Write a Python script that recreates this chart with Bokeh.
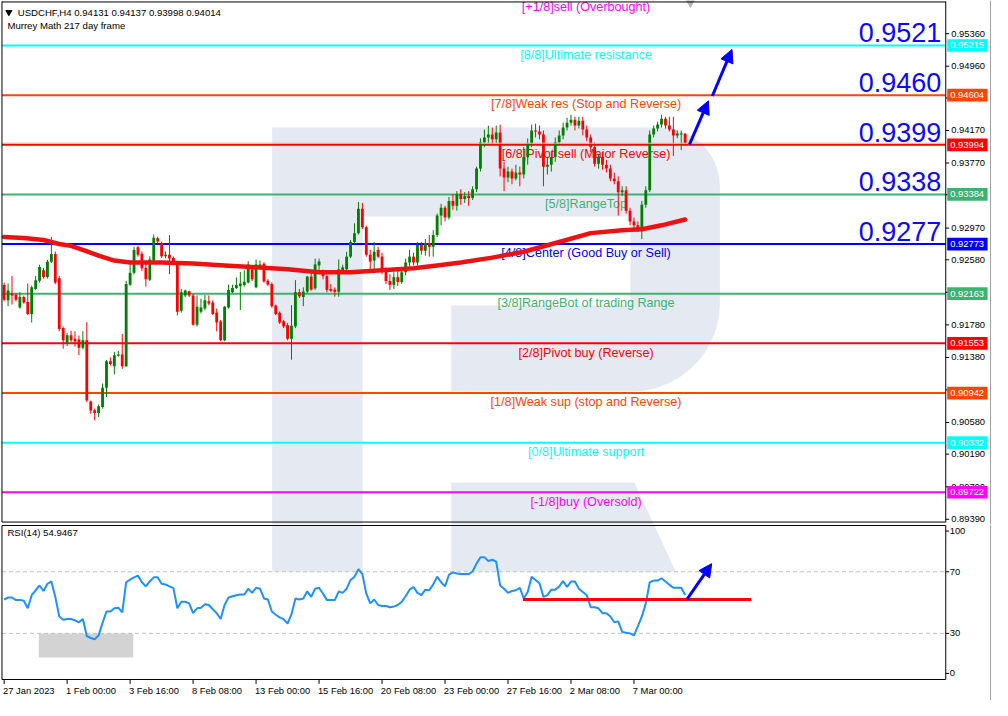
import numpy as np
from bokeh.plotting import figure
from bokeh.models import Range1d, Arrow, NormalHead
from bokeh.layouts import column
from bokeh.embed import file_html
from bokeh.resources import INLINE
from bokeh.core.properties import value

# ---------------- data (USDCHF H4) ----------------
symbol_header = "USDCHF,H4  0.94131 0.94137 0.93998 0.94014"
indicator_header = "Murrey Math 217 day frame"
rsi_header = "RSI(14) 54.9467"

opens = [
    .92270, .92082, .92170, .92150, .91994, .92122, .92062, .91913, .92222, .92322,
    .92451, .92370, .92555, .92651, .92354, .91741, .91560, .91653, .91608, .91600,
    .91500, .91592, .90839, .90730, .90698, .90770, .91007, .91332, .91272, .91400,
    .91416, .91272, .92274, .92422, .92735, .92655, .92483, .92334, .92571, .92844,
    .92784, .92623, .92643, .92603, .92551, .91953, .92142, .92194, .92142, .91781,
    .91941, .91982, .92070, .92054, .91933, .91821, .91592, .91994, .92182, .92234,
    .92254, .92270, .92302, .92463, .92242, .92471, .92531, .92322, .92282, .92018,
    .91929, .91825, .91777, .91609, .91761, .92182, .92122, .92190, .92374, .92230,
    .92511, .92439, .92379, .92222, .92214, .92186, .92439, .92463, .92619, .92799,
    .92907, .93208, .92980, .92643, .92571, .92700, .92619, .92439, .92319, .92271,
    .92367, .92307, .92427, .92547, .92619, .92547, .92763, .92691, .92787, .92739,
    .92884, .93124, .93220, .93100, .93304, .93244, .93388, .93328, .93364, .93340,
    .93448, .93701, .94025, .94085, .94121, .94061, .94146, .93701, .93593, .93665,
    .93581, .93653, .93629, .93845, .94013, .94170, .94158, .94121, .93725, .93749,
    .93845, .94025, .94109, .94206, .94266, .94302, .94230, .94290, .94182, .94085,
    .93965, .93761, .93845, .93749, .93701, .93581, .93545, .93412, .93436, .93184,
    .93052, .93004, .92956, .93256, .93436, .94121, .94194, .94242, .94314, .94230,
    .94182, .94109, .94121, .94131]

highs = [
    .92300, .92290, .92382, .92170, .92182, .92140, .92290, .92262, .92382, .92520,
    .92480, .92580, .92860, .92680, .92382, .91760, .91680, .91709, .91701, .91649,
    .91701, .91813, .90850, .90750, .90800, .91059, .91348, .91380, .91448, .91460,
    .91669, .92322, .92543, .92740, .92755, .92683, .92563, .92623, .92892, .92864,
    .92804, .92683, .92884, .92620, .92563, .92222, .92214, .92202, .92162, .92142,
    .92102, .92146, .92142, .92082, .91981, .91840, .92010, .92274, .92274, .92362,
    .92431, .92451, .92563, .92503, .92583, .92571, .92551, .92342, .92302, .92030,
    .91946, .91841, .91801, .92022, .92330, .92222, .92242, .92382, .92443, .92595,
    .92595, .92460, .92400, .92283, .92240, .92583, .92520, .92679, .92823, .93028,
    .93292, .93280, .93000, .92703, .92799, .92740, .92667, .92487, .92403, .92427,
    .92439, .92463, .92595, .92703, .92667, .92799, .92799, .92835, .92884, .92944,
    .93148, .93268, .93244, .93352, .93388, .93424, .93448, .93412, .93424, .93484,
    .93725, .94073, .94182, .94230, .94206, .94230, .94242, .93785, .93725, .93701,
    .93749, .93725, .93965, .94073, .94242, .94254, .94230, .94170, .93845, .93905,
    .94085, .94170, .94266, .94326, .94362, .94338, .94338, .94338, .94230, .94121,
    .94025, .93881, .93905, .93809, .93749, .93653, .93605, .93484, .93484, .93220,
    .93100, .93052, .93304, .93484, .94170, .94230, .94278, .94362, .94338, .94338,
    .94338, .94170, .94170, .94137]

lows = [
    .92070, .92010, .92030, .92070, .91980, .92040, .91901, .91809, .92210, .92300,
    .92350, .92350, .92540, .92280, .91700, .91488, .91520, .91570, .91512, .91408,
    .91480, .90830, .90686, .90606, .90646, .90750, .90891, .91280, .91172, .91390,
    .91240, .91260, .92260, .92400, .92620, .92443, .92250, .92320, .92550, .92780,
    .92603, .92600, .92403, .92520, .91897, .91930, .92120, .92122, .91770, .91760,
    .91920, .91960, .92020, .91900, .91701, .91580, .91580, .91980, .92170, .92220,
    .91962, .92250, .92290, .92320, .92230, .92460, .92300, .92260, .91990, .91900,
    .91790, .91740, .91590, .91352, .91740, .92110, .92010, .92170, .92200, .92210,
    .92420, .92340, .92180, .92186, .92126, .92126, .92420, .92450, .92600, .92780,
    .92890, .92960, .92619, .92439, .92415, .92600, .92403, .92283, .92210, .92222,
    .92259, .92283, .92391, .92499, .92511, .92511, .92643, .92631, .92619, .92619,
    .92860, .93004, .93052, .93076, .93196, .93184, .93256, .93280, .93244, .93316,
    .93412, .93665, .93965, .94013, .93989, .94013, .93605, .93424, .93532, .93508,
    .93557, .93484, .93581, .93749, .93965, .94085, .94061, .93484, .93629, .93665,
    .93785, .93989, .94061, .94170, .94230, .94170, .94194, .94109, .94037, .93905,
    .93725, .93701, .93689, .93653, .93545, .93508, .93124, .93364, .93148, .93004,
    .92956, .92920, .92835, .93220, .93412, .94085, .94158, .94206, .94194, .94158,
    .93857, .94073, .93929, .93998]

closes = [
    .92090, .92202, .92140, .92090, .92122, .92054, .91913, .92242, .92330, .92491,
    .92370, .92555, .92651, .92302, .91729, .91592, .91653, .91592, .91576, .91500,
    .91592, .90851, .90726, .90698, .90778, .91007, .91332, .91300, .91408, .91416,
    .91272, .92282, .92422, .92700, .92643, .92475, .92342, .92583, .92852, .92804,
    .92623, .92643, .92595, .92543, .91941, .92182, .92202, .92142, .91781, .92002,
    .91994, .92082, .92042, .91913, .91809, .91592, .92002, .92210, .92234, .92270,
    .92290, .92310, .92523, .92342, .92523, .92523, .92314, .92274, .92010, .91913,
    .91809, .91761, .91609, .91769, .92182, .92130, .92190, .92374, .92214, .92523,
    .92559, .92379, .92210, .92198, .92186, .92463, .92487, .92619, .92799, .92907,
    .93208, .92980, .92643, .92559, .92679, .92619, .92439, .92319, .92271, .92367,
    .92307, .92427, .92547, .92619, .92547, .92763, .92691, .92787, .92739, .92884,
    .93124, .93220, .93100, .93304, .93244, .93388, .93328, .93364, .93340, .93448,
    .93701, .94025, .94085, .94121, .94061, .94146, .93701, .93593, .93665, .93581,
    .93653, .93629, .93845, .94013, .94170, .94158, .94121, .93725, .93749, .93845,
    .94025, .94109, .94206, .94266, .94302, .94230, .94290, .94182, .94085, .93965,
    .93761, .93845, .93749, .93701, .93581, .93545, .93412, .93436, .93184, .93052,
    .93004, .92956, .93256, .93436, .94121, .94194, .94242, .94314, .94230, .94182,
    .94109, .94133, .94131, .94014]

# moving average (read at selected bars)
ma_idx = [0, 5, 10, 14, 17, 20, 24, 28, 32, 40, 48, 56, 64, 72, 80, 88, 96, 104,
          110, 116, 124, 132, 141, 149, 157, 162, 167, 173]
ma_vals = [.92860, .92847, .92823, .92775, .92751, .92703, .92631, .92571, .92547,
           .92547, .92535, .92511, .92487, .92463, .92427, .92427, .92451, .92475,
           .92511, .92547, .92607, .92679, .92799, .92908, .92944, .92956, .93004, .93076]

rsi = [
    52.0, 53.3, 53.3, 51.6, 51.6, 51.2, 46.3, 54.8, 58.0, 61.1,
    57.5, 62.2, 63.7, 53.7, 41.0, 38.9, 39.3, 39.3, 38.5, 37.2,
    39.3, 28.3, 27.0, 26.2, 28.7, 36.8, 44.2, 44.2, 46.3, 46.7,
    43.6, 63.2, 64.9, 66.4, 67.5, 63.2, 60.5, 63.7, 66.4, 66.4,
    62.2, 61.8, 60.5, 59.4, 46.3, 50.5, 50.5, 49.5, 43.1, 46.3,
    46.7, 48.9, 48.4, 45.7, 43.1, 39.3, 48.4, 53.3, 54.1, 54.8,
    55.2, 55.2, 59.0, 56.3, 59.6, 59.0, 52.7, 52.0, 44.2, 42.1,
    40.4, 39.3, 36.4, 42.5, 52.7, 52.0, 52.7, 57.3, 53.7, 59.0,
    59.6, 55.8, 51.6, 51.6, 51.6, 57.3, 56.3, 59.0, 64.7, 66.8,
    71.7, 68.5, 55.8, 49.5, 52.0, 48.4, 47.8, 47.8, 47.0, 47.4,
    48.4, 50.5, 54.1, 58.4, 60.1, 56.3, 54.8, 58.4, 58.0, 61.8,
    66.8, 63.2, 60.5, 68.1, 69.6, 68.9, 68.5, 68.5, 68.5, 70.2,
    75.3, 79.5, 79.5, 77.0, 77.8, 76.6, 61.1, 59.0, 56.3, 57.5,
    58.0, 59.6, 52.7, 56.9, 66.8, 64.7, 62.6, 53.7, 54.8, 58.4,
    58.4, 60.5, 63.9, 60.1, 63.7, 63.7, 59.0, 56.9, 54.8, 47.0,
    47.0, 46.3, 43.1, 43.1, 41.0, 37.2, 37.8, 30.9, 30.4, 30.0,
    28.7, 34.7, 41.0, 49.5, 63.2, 64.3, 64.3, 65.8, 63.7, 61.5,
    59.6, 59.6, 59.6, 54.9467]

levels = [0.95825, 0.95215, 0.94604, 0.93994, 0.93384, 0.92773,
          0.92163, 0.91553, 0.90942, 0.90332, 0.89722]
level_names = ["[+1/8]sell (Overbought)", "[8/8]Ultimate resistance",
               "[7/8]Weak res (Stop and Reverse)", "[6/8]Pivot sell (Major Reverse)",
               "[5/8]RangeTop", "[4/8]Center (Good Buy or Sell)",
               "[3/8]RangeBot of trading Range", "[2/8]Pivot buy (Reverse)",
               "[1/8]Weak sup (stop and Reverse)", "[0/8]Ultimate support",
               "[-1/8]buy (Oversold)"]
level_colors = ["#ff00ff", "#00ffff", "#ff4500", "#ff0000", "#3cb371", "#0000ff",
                "#3cb371", "#ff0000", "#ff4500", "#00ffff", "#ff00ff"]
big_labels = ["0.9521", "0.9460", "0.9399", "0.9338", "0.9277"]

price_ticks = [0.95360, 0.94960, 0.94570, 0.94170, 0.93770, 0.93380, 0.92970, 0.92580,
               0.92180, 0.91780, 0.91380, 0.90980, 0.90580, 0.90190, 0.89790, 0.89390]
time_ticks = [0, 16, 32, 48, 64, 80, 96, 112, 128, 144, 160]
time_labels = ["27 Jan 2023", "1 Feb 00:00", "3 Feb 16:00", "8 Feb 08:00", "13 Feb 00:00",
               "15 Feb 16:00", "20 Feb 08:00", "23 Feb 00:00", "27 Feb 16:00",
               "2 Mar 08:00", "7 Mar 00:00"]
rsi_levels = [70, 30]

# annotations (data units)
main_arrows = [(174.1, 0.93998, 178.9, 0.94534), (179.9, 0.94594, 184.9, 0.95167)]
rsi_arrow = (173.5, 52.2, 179.75, 75.3)
rsi_support = (131.8, 189.8, 52.0)
rsi_box = (8.8, 32.8, 14.35, 30.0)

# ---------------- helpers: reference pixel -> data ----------------
def X(px):
    return (px - 3.7) / 4.0

def P(py):
    return 0.95768 - py / 8320.0

def R(py):
    return (694.6 - py) / 1.575

FONT = value("Liberation Sans")
GREEN = "#008000"
RED = "#ff0000"
WM = "#e5eaf2"
W, HM, HR = 992, 524, 176
SPLIT = 536.0

def make_fig(h, yr):
    f = figure(width=W, height=h, x_range=Range1d(X(0), X(1008)), y_range=yr,
               output_backend="svg", toolbar_location=None,
               x_axis_type=None, y_axis_type=None, min_border=0,
               outline_line_color=None, background_fill_color="white",
               border_fill_color="white")
    f.xgrid.visible = False
    f.ygrid.visible = False
    return f

main = make_fig(HM, Range1d(P(SPLIT), P(0)))
rsif = make_fig(HR, Range1d(R(716), R(SPLIT)))

# ---------------- watermark ----------------
def poly(pts, yf):
    return [X(a) for a, b in pts], [yf(b) for a, b in pts]

t = np.linspace(0, np.pi / 2, 12)
arc1 = [(671 + 60 * np.sin(a), 190 - 60 * np.cos(a)) for a in t]
arc2 = [(641 + 90 * np.cos(a), 310 + 90 * np.sin(a)) for a in t]
body_pts = ([(276, 130), (671, 130)] + arc1 + [(731, 310)] + arc2 +
            [(458, 400), (458, 312), (640, 312), (640, 221), (368, 221), (368, SPLIT),
             (276, SPLIT)])
leg_main = [(458, 493), (644, 493), (664, SPLIT), (458, SPLIT)]
xs1, ys1 = poly(body_pts, P)
xs2, ys2 = poly(leg_main, P)
main.patches([xs1, xs2], [ys1, ys2], fill_color=WM, line_color=None)

stem_r = [(276, 537), (368, 537), (368, 584), (276, 584)]
leg_r = [(458, 537), (664.5, 537), (686, 584), (458, 584)]
xs3, ys3 = poly(stem_r, R)
xs4, ys4 = poly(leg_r, R)
rsif.patches([xs3, xs4], [ys3, ys4], fill_color=WM, line_color=None)

# ---------------- main chart ----------------
xl, xr = X(1.5), X(960.5)
for lv, col in zip(levels, level_colors):
    main.segment(x0=[xl], y0=[lv], x1=[xr], y1=[lv], line_color=col, line_width=2)

for k, (lv, col, name) in enumerate(zip(levels, level_colors, level_names)):
    ty = lv - 9.5 / 8320
    if ty > P(7):          # keep the top (overbought) label inside the frame
        ty = P(7)
    main.text(x=[X(595)], y=[ty], text=[name], text_font=FONT,
              text_font_size="12.6px", text_color=col, text_align="center",
              text_baseline="middle")

o = np.array(opens); h = np.array(highs); l = np.array(lows); c = np.array(closes)
idx = np.arange(len(o))
cols = [GREEN if cc >= oo else RED for oo, cc in zip(o, c)]
btop = np.maximum(o, c)
bbot = np.minimum(o, c)
minh = 1.0 / 8320
thin = (btop - bbot) < minh
mid = (btop + bbot) / 2
btop = np.where(thin, mid + minh / 2, btop)
bbot = np.where(thin, mid - minh / 2, bbot)
main.segment(x0=idx, y0=np.maximum(h, btop), x1=idx, y1=np.minimum(l, bbot),
             line_color=cols, line_width=1)
main.vbar(x=idx, width=0.72, top=btop, bottom=bbot, fill_color=cols, line_color=None)

main.line(ma_idx, ma_vals, line_color="#ee1111", line_width=4.5, line_join="round",
          line_cap="round")

# bid line
main.segment(x0=[xl], y0=[closes[-1]], x1=[xr], y1=[closes[-1]], line_color="#c0c0c0",
             line_width=1)

main.text(x=[X(956)] * len(big_labels), y=[lv + 13 / 8320 for lv in levels[1:6]],
          text=big_labels, text_font=FONT, text_font_size="27px", text_color="#0a0aff",
          text_align="right", text_baseline="middle")

for (x0, y0, x1, y1) in main_arrows:
    main.add_layout(Arrow(end=NormalHead(size=13, fill_color="#0000ff", line_color="#0000ff"),
                          x_start=x0, y_start=y0, x_end=x1, y_end=y1,
                          line_color="#0000ff", line_width=3))

# small grey marker clipped at the top edge
main.scatter([X(701)], [P(2)], marker="inverted_triangle", size=10, fill_color="#b4b4b4",
             line_color=None)

# frame
main.segment(x0=[xl, xr, xl, xl], y0=[P(1), P(1), P(1.5), P(533.5)],
             x1=[xl, xr, xr, xr], y1=[P(533.5), P(533.5), P(1.5), P(533.5)],
             line_color="black", line_width=1)
main.segment(x0=[X(1006)], y0=[P(0)], x1=[X(1006)], y1=[P(SPLIT)], line_color="#a0a0a0",
             line_width=1)

# right price axis
main.segment(x0=[X(960.5)] * len(price_ticks), y0=price_ticks,
             x1=[X(964)] * len(price_ticks), y1=price_ticks, line_color="black", line_width=1)
main.text(x=[X(966)] * len(price_ticks), y=price_ticks,
          text=["%.5f" % v for v in price_ticks], text_font=FONT, text_font_size="9.4px",
          text_color="black", text_align="left", text_baseline="middle")
lv_box = levels[1:]
main.quad(left=[X(962)] * len(lv_box), right=[X(1003)] * len(lv_box),
          top=[v + 6.5 / 8320 for v in lv_box], bottom=[v - 6.5 / 8320 for v in lv_box],
          fill_color=level_colors[1:], line_color=None)
main.text(x=[X(965)] * len(lv_box), y=lv_box, text=["%.5f" % v for v in lv_box],
          text_font=FONT, text_font_size="9.4px", text_color="white", text_align="left",
          text_baseline="middle")

# header
main.scatter([X(8.5)], [P(12)], marker="inverted_triangle", size=6, fill_color="black",
             line_color="black")
main.text(x=[X(17.5)], y=[P(12.5)], text=[symbol_header], text_font=FONT,
          text_font_size="9.6px", text_color="black", text_align="left", text_baseline="middle")
main.text(x=[X(7)], y=[P(25.5)], text=[indicator_header], text_font=FONT,
          text_font_size="9.6px", text_color="black", text_align="left", text_baseline="middle")

# ---------------- RSI panel ----------------
bx0, bx1, by0, by1 = rsi_box
rsif.quad(left=[bx0], right=[bx1], bottom=[by0], top=[by1], fill_color="#d3d3d3",
          line_color=None)
for lvl in rsi_levels:
    rsif.segment(x0=[xl], y0=[lvl], x1=[xr], y1=[lvl], line_color="#c0c0c0",
                 line_width=1, line_dash="4 3")
rsif.line(idx, rsi, line_color="#1e90ff", line_width=2)
s0, s1, sv = rsi_support
rsif.segment(x0=[s0], y0=[sv], x1=[s1], y1=[sv], line_color="#ff0000", line_width=3)
ax0, ay0, ax1, ay1 = rsi_arrow
rsif.add_layout(Arrow(end=NormalHead(size=13, fill_color="#0000ff", line_color="#0000ff"),
                      x_start=ax0, y_start=ay0, x_end=ax1, y_end=ay1,
                      line_color="#0000ff", line_width=3))

# frame
rt, rb = R(537), R(694.5)
rsif.segment(x0=[xl, xr, xl, xl], y0=[rt, rt, rt, rb], x1=[xl, xr, xr, xr],
             y1=[rb, rb, rt, rb], line_color="black", line_width=1)
rsif.segment(x0=[X(1006)], y0=[R(SPLIT)], x1=[X(1006)], y1=[R(716)], line_color="#a0a0a0",
             line_width=1)

# right RSI axis labels (MT4 shifts the 0/100 labels inside the window)
r_lab_y = [R(542.7), 70, 30, R(688.3)]
rsif.segment(x0=[X(960.5)] * 4, y0=r_lab_y, x1=[X(964)] * 4, y1=r_lab_y,
             line_color="black", line_width=1)
rsif.text(x=[X(964.5)] * 4, y=r_lab_y, text=["100", "70", "30", "0"], text_font=FONT,
          text_font_size="9.4px", text_color="black", text_align="left", text_baseline="middle")

# time axis
rsif.segment(x0=time_ticks, y0=[rb] * len(time_ticks), x1=time_ticks,
             y1=[R(699)] * len(time_ticks), line_color="black", line_width=1)
rsif.text(x=[t_ - 0.3 for t_ in time_ticks], y=[R(705.5)] * len(time_ticks), text=time_labels,
          text_font=FONT, text_font_size="9.4px", text_color="black", text_align="left",
          text_baseline="middle")

rsif.text(x=[X(7)], y=[R(544.5)], text=[rsi_header], text_font=FONT, text_font_size="9.6px",
          text_color="black", text_align="left", text_baseline="middle")

layout = column(main, rsif, spacing=0)
open("out.html", "w").write(file_html(layout, INLINE))
